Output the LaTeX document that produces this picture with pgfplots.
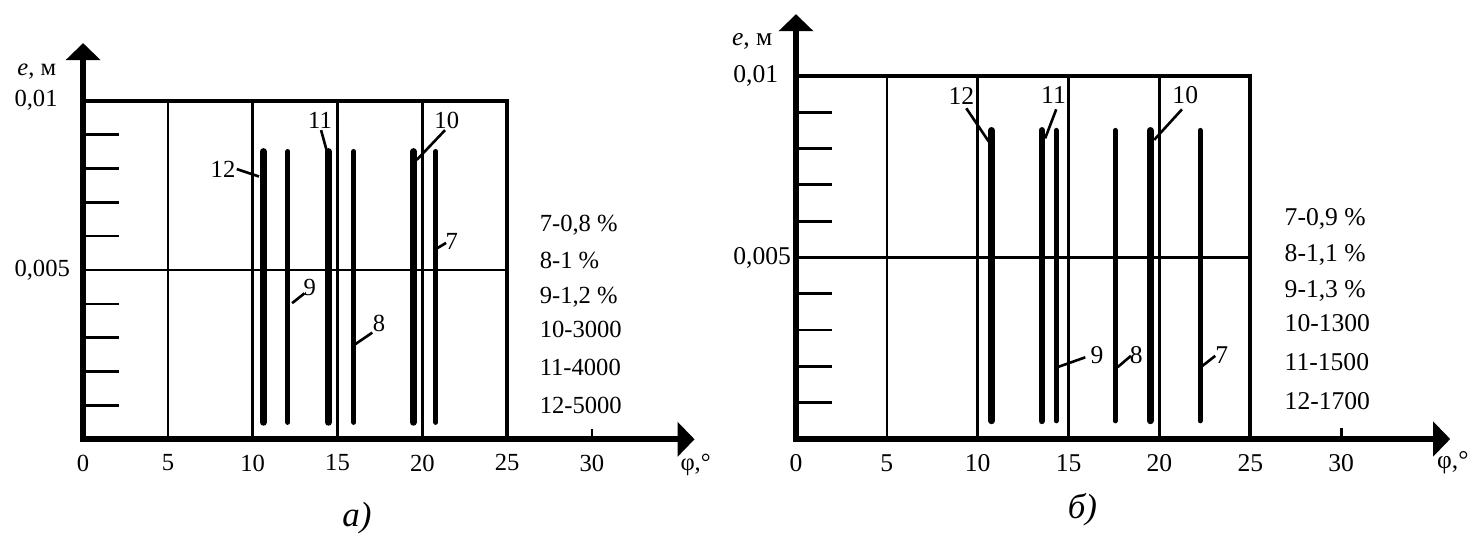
\documentclass[border=0pt]{standalone}
\usepackage{pgfplots}
\pgfplotsset{compat=1.18}
\usepackage{fontspec}
\setmainfont{Liberation Serif}
\usetikzlibrary{arrows.meta}

\pgfplotsset{
  panel/.style={
    anchor=south west, scale only axis, clip=false,
    xmin=0, xmax=36, ymin=0, ymax=0.0117,
    axis lines*=left, axis line style={draw=none},
    major tick length=0pt, scaled y ticks=false,
    xtick={0,5,10,15,20,25,30},
    ytick={0.005,0.01}, yticklabels={{0,005},{0,01}},
    /pgf/number format/assume math mode=true,
    xticklabel style={anchor=north, inner sep=0pt, yshift=-7.5pt},
  },
  axisline/.style={line width=3pt, line join=miter,
    {Triangle[length=8.5pt,width=17pt]}-{Triangle[length=8.5pt,width=17pt]}},
  gridl/.style={line width=1.25pt},
  framel/.style={line width=2.1pt, line join=miter},
  tickl/.style={line width=1.35pt},
  thickbar/.style={line width=3.35pt, line cap=round},
  thinbar/.style={line width=2.5pt, line cap=round},
  leader/.style={line width=1.3pt},
}

\begin{document}
\begin{tikzpicture}
\useasboundingbox (0,0) rectangle (741pt,268.5pt);

% ---------------- panel a) ----------------
\begin{axis}[panel,
  at={(41.55pt,48.85pt)}, width=305.3pt, height=198.1pt,
  tick label style={font=\fontsize{12.3}{14}\selectfont},
  yticklabel style={anchor=west, inner sep=0pt, xshift=-34.5pt},
]
\addplot[axisline] coordinates {(0,0.0117) (0,0) (36.05,0)};
% grid and frame
\addplot[gridl] coordinates {(5,0) (5,0.01)};
\addplot[gridl] coordinates {(10,0) (10,0.01)};
\addplot[gridl] coordinates {(15,0) (15,0.01)};
\addplot[gridl] coordinates {(20,0) (20,0.01)};
\addplot[gridl] coordinates {(0,0.005) (25,0.005)};
\addplot[framel] coordinates {(0,0.01) (25,0.01) (25,0)};
\addplot[tickl] coordinates {(30,0) (30,0.0003)};
% minor ticks on e axis
\addplot[tickl] coordinates {(0,0.001) (2.1,0.001)};
\addplot[tickl] coordinates {(0,0.002) (2.1,0.002)};
\addplot[tickl] coordinates {(0,0.003) (2.1,0.003)};
\addplot[tickl] coordinates {(0,0.004) (2.1,0.004)};
\addplot[tickl] coordinates {(0,0.006) (2.1,0.006)};
\addplot[tickl] coordinates {(0,0.007) (2.1,0.007)};
\addplot[tickl] coordinates {(0,0.008) (2.1,0.008)};
\addplot[tickl] coordinates {(0,0.009) (2.1,0.009)};
% bars
\addplot[thickbar] coordinates {(10.63,0.0005) (10.63,0.0085)}; % 12
\addplot[thinbar]  coordinates {(12.08,0.0005) (12.08,0.0085)}; % 9
\addplot[thickbar] coordinates {(14.46,0.0005) (14.46,0.0085)}; % 11
\addplot[thinbar]  coordinates {(15.96,0.0005) (15.96,0.0085)}; % 8
\addplot[thickbar] coordinates {(19.47,0.0005) (19.47,0.0085)}; % 10
\addplot[thinbar]  coordinates {(20.80,0.0005) (20.80,0.0085)}; % 7
% leaders
\addplot[leader] coordinates {(9.06,0.00798) (10.37,0.00776)};
\addplot[leader] coordinates {(14.03,0.00913) (14.38,0.00849)};
\addplot[leader] coordinates {(21.34,0.00913) (19.67,0.00825)};
\addplot[leader] coordinates {(21.4,0.0058) (20.9,0.00565)};
\addplot[leader] coordinates {(13.05,0.00431) (12.32,0.00402)};
\addplot[leader] coordinates {(17.05,0.00315) (16.05,0.00281)};
\begin{scope}[font=\fontsize{12.3}{14}\selectfont]
\node at (axis cs:8.25,0.00796) {12};
\node at (axis cs:13.97,0.00941) {11};
\node at (axis cs:21.44,0.00941) {10};
\node at (axis cs:21.73,0.00584) {7};
\node at (axis cs:13.37,0.00449) {9};
\node at (axis cs:17.45,0.00343) {8};
\node[anchor=west, inner sep=0pt] at (axis cs:26.9,0.00633) {7-0,8 \%};
\node[anchor=west, inner sep=0pt] at (axis cs:26.9,0.00529) {8-1 \%};
\node[anchor=west, inner sep=0pt] at (axis cs:26.9,0.00419) {9-1,2 \%};
\node[anchor=west, inner sep=0pt] at (axis cs:26.9,0.00325) {10-3000};
\node[anchor=west, inner sep=0pt] at (axis cs:26.9,0.00211) {11-4000};
\node[anchor=west, inner sep=0pt] at (axis cs:26.9,0.00099) {12-5000};
\node[anchor=west, inner sep=0pt] at (axis cs:-3.9,0.01086) {\textit{e}, м};
\node[anchor=west, inner sep=0pt] at (axis cs:35.2,-0.00076) {φ,°};
\end{scope}
\node[font=\fontsize{17.5}{20}\selectfont\itshape] at (axis cs:16.15,-0.00232) {а)};
\end{axis}

% ---------------- panel б) ----------------
\begin{axis}[panel,
  at={(398pt,49pt)}, width=327.1pt, height=212.4pt,
  tick label style={font=\fontsize{12.8}{14.6}\selectfont},
  yticklabel style={anchor=west, inner sep=0pt, xshift=-31.5pt},
]
\addplot[axisline] coordinates {(0,0.0117) (0,0) (36,0)};
\addplot[gridl] coordinates {(5,0) (5,0.01)};
\addplot[gridl] coordinates {(10,0) (10,0.01)};
\addplot[gridl] coordinates {(15,0) (15,0.01)};
\addplot[gridl] coordinates {(20,0) (20,0.01)};
\addplot[gridl] coordinates {(0,0.005) (25,0.005)};
\addplot[framel] coordinates {(0,0.01) (25,0.01) (25,0)};
\addplot[tickl] coordinates {(30,0) (30,0.0003)};
\addplot[tickl] coordinates {(0,0.001) (2.0,0.001)};
\addplot[tickl] coordinates {(0,0.002) (2.0,0.002)};
\addplot[tickl] coordinates {(0,0.003) (2.0,0.003)};
\addplot[tickl] coordinates {(0,0.004) (2.0,0.004)};
\addplot[tickl] coordinates {(0,0.006) (2.0,0.006)};
\addplot[tickl] coordinates {(0,0.007) (2.0,0.007)};
\addplot[tickl] coordinates {(0,0.008) (2.0,0.008)};
\addplot[tickl] coordinates {(0,0.009) (2.0,0.009)};
\addplot[thickbar] coordinates {(10.76,0.0005) (10.76,0.0085)}; % 12
\addplot[thickbar] coordinates {(13.53,0.0005) (13.53,0.0085)}; % 11
\addplot[thinbar]  coordinates {(14.32,0.0005) (14.32,0.0085)}; % 9
\addplot[thinbar]  coordinates {(17.57,0.0005) (17.57,0.0085)}; % 8
\addplot[thickbar] coordinates {(19.49,0.0005) (19.49,0.0085)}; % 10
\addplot[thinbar]  coordinates {(22.24,0.0005) (22.24,0.0085)}; % 7
\addplot[leader] coordinates {(9.37,0.00911) (10.61,0.00819)};
\addplot[leader] coordinates {(14.32,0.00908) (13.71,0.00828)};
\addplot[leader] coordinates {(21.24,0.00908) (19.71,0.00824)};
\addplot[leader] coordinates {(15.92,0.00225) (14.45,0.00199)};
\addplot[leader] coordinates {(18.43,0.00229) (17.7,0.00198)};
\addplot[leader] coordinates {(23.07,0.00229) (22.28,0.00198)};
\begin{scope}[font=\fontsize{12.8}{14.6}\selectfont]
\node at (axis cs:9.1,0.00945) {12};
\node at (axis cs:14.17,0.00948) {11};
\node at (axis cs:21.42,0.00948) {10};
\node at (axis cs:16.56,0.00231) {9};
\node at (axis cs:18.72,0.00231) {8};
\node at (axis cs:23.43,0.00231) {7};
\node[anchor=west, inner sep=0pt] at (axis cs:26.87,0.00605) {7-0,9 \%};
\node[anchor=west, inner sep=0pt] at (axis cs:26.87,0.00507) {8-1,1 \%};
\node[anchor=west, inner sep=0pt] at (axis cs:26.87,0.00408) {9-1,3 \%};
\node[anchor=west, inner sep=0pt] at (axis cs:26.87,0.00319) {10-1300};
\node[anchor=west, inner sep=0pt] at (axis cs:26.87,0.00212) {11-1500};
\node[anchor=west, inner sep=0pt] at (axis cs:26.87,0.00105) {12-1700};
\node[anchor=west, inner sep=0pt] at (axis cs:-3.54,0.01094) {\textit{e}, м};
\node[anchor=west, inner sep=0pt] at (axis cs:35.26,-0.00066) {φ,°};
\end{scope}
\node[font=\fontsize{17.5}{20}\selectfont\itshape] at (axis cs:15.76,-0.00196) {б)};
\end{axis}
\end{tikzpicture}
\end{document}
